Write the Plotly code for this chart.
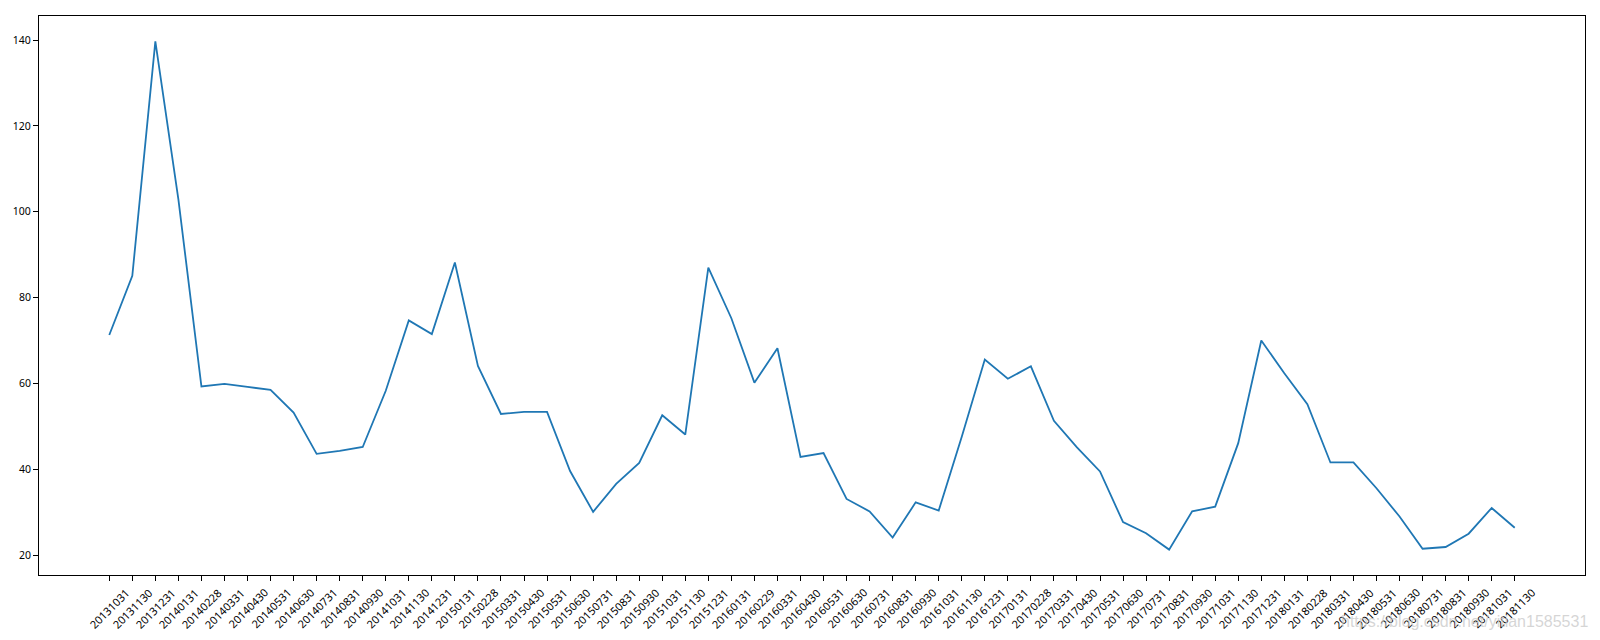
import plotly.graph_objects as go

dates = [
    "20131031", "20131130", "20131231", "20140131", "20140228", "20140331",
    "20140430", "20140531", "20140630", "20140731", "20140831", "20140930",
    "20141031", "20141130", "20141231", "20150131", "20150228", "20150331",
    "20150430", "20150531", "20150630", "20150731", "20150831", "20150930",
    "20151031", "20151130", "20151231", "20160131", "20160229", "20160331",
    "20160430", "20160531", "20160630", "20160731", "20160831", "20160930",
    "20161031", "20161130", "20161231", "20170131", "20170228", "20170331",
    "20170430", "20170531", "20170630", "20170731", "20170831", "20170930",
    "20171031", "20171130", "20171231", "20180131", "20180228", "20180331",
    "20180430", "20180531", "20180630", "20180731", "20180831", "20180930",
    "20181031", "20181130",
]

values = [
    71.3, 85.1, 139.7, 102.9, 59.3, 59.9,
    59.2, 58.5, 53.2, 43.6, 44.3, 45.2,
    58.3, 74.7, 71.5, 88.2, 64.1, 52.9,
    53.4, 53.4, 39.6, 30.1, 36.6, 41.5,
    52.6, 48.1, 87.0, 75.2, 60.2, 68.2,
    42.9, 43.8, 33.1, 30.2, 24.1, 32.3,
    30.4, 47.6, 65.6, 61.1, 64.0, 51.3,
    45.1, 39.5, 27.7, 25.1, 21.3, 30.2,
    31.3, 46.1, 70.0, 62.4, 55.2, 41.6,
    41.6, 35.6, 29.0, 21.5, 21.9, 25.0,
    31.0, 26.4,
]

y_ticks = [20, 40, 60, 80, 100, 120, 140]
watermark = "https://blog.csdn.net/yitian1585531"

idx = list(range(len(dates)))
n = len(dates)
ymin, ymax = min(values), max(values)
pad = (ymax - ymin) * 0.05
xpad = (n - 1) * 0.05

FONT = "Noto Sans"

fig = go.Figure()
fig.add_trace(go.Scatter(
    x=idx, y=values, mode="lines",
    line=dict(color="#1f77b4", width=1.8),
    showlegend=False, hoverinfo="skip",
))

for i, d in enumerate(dates):
    fig.add_annotation(
        x=i, xref="x", y=-0.016, yref="paper",
        text=d, textangle=-45, showarrow=False,
        xanchor="center", yanchor="top",
        font=dict(family=FONT, size=11, color="#000000"),
        borderpad=0,
    )

fig.add_annotation(
    x=1.003, xref="paper", y=-0.084, yref="paper",
    text=watermark, showarrow=False,
    xanchor="right", yanchor="middle",
    font=dict(family="Liberation Sans", size=16, color="rgba(200,200,200,0.75)"),
)

fig.update_layout(
    width=1600, height=640,
    margin=dict(l=39, r=15, t=16, b=65),
    paper_bgcolor="white", plot_bgcolor="white",
    font=dict(family=FONT, size=10, color="#000000"),
    xaxis=dict(
        range=[-xpad, n - 1 + xpad],
        tickmode="array", tickvals=idx, showticklabels=False,
        ticks="outside", ticklen=5, tickwidth=1, tickcolor="#000000",
        showline=True, linecolor="#000000", linewidth=1, mirror=True,
        showgrid=False, zeroline=False,
    ),
    yaxis=dict(
        range=[ymin - pad, ymax + pad],
        tickmode="array", tickvals=y_ticks,
        ticks="outside", ticklen=5, tickwidth=1, tickcolor="#000000",
        tickfont=dict(family=FONT, size=10.5, color="#000000"),
        showline=True, linecolor="#000000", linewidth=1, mirror=True,
        showgrid=False, zeroline=False,
    ),
)

fig.write_html(
    "out.html",
    config={"displayModeBar": False},
    post_script="document.body.style.margin='0px';",
)
